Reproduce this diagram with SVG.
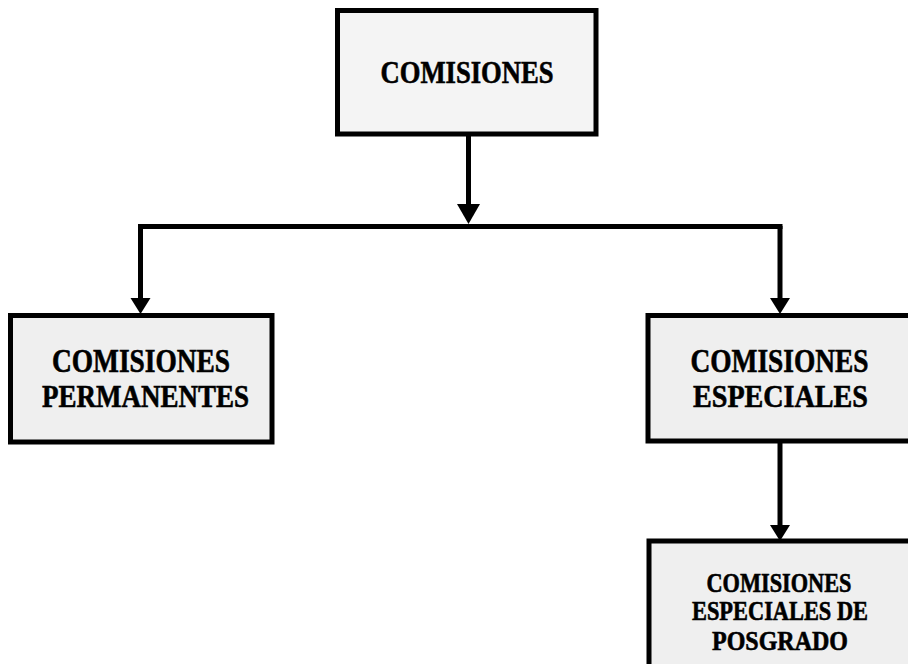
<svg xmlns="http://www.w3.org/2000/svg" width="908" height="664" viewBox="0 0 908 664">
<defs>
<style>
.box{fill:#efefef;stroke:#000;stroke-width:5}
.t{font-family:"Liberation Serif","Times New Roman",serif;font-weight:bold;fill:#000;stroke:#000;stroke-width:0.6;text-anchor:middle}
.c{stroke:#000;stroke-width:5;fill:none}
.ah{fill:#000}
</style>
</defs>
<rect width="908" height="664" fill="#fff"/>
<g id="connectors">
<path class="c" d="M468.5,134 V212"/>
<polygon class="ah" points="457,204 480,204 468.5,224"/>
<path class="c" d="M138,226.5 H782.5"/>
<path class="c" d="M140.5,226 V302"/>
<polygon class="ah" points="130.5,298 150.5,298 140.5,314"/>
<path class="c" d="M780,226 V302"/>
<polygon class="ah" points="770,298 790,298 780,314"/>
<path class="c" d="M780,441 V528"/>
<polygon class="ah" points="770,525 790,525 780,541"/>
</g>
<g id="comisiones">
<rect class="box" x="337.5" y="10.5" width="258.5" height="123.5" style="fill:#f4f4f4"/>
<text class="t" x="467" y="83" font-size="32" textLength="173" lengthAdjust="spacingAndGlyphs">COMISIONES</text>
</g>
<g id="permanentes">
<rect class="box" x="10.5" y="315.5" width="261.5" height="126.5"/>
<text class="t" x="141" y="372" font-size="33" textLength="178" lengthAdjust="spacingAndGlyphs">COMISIONES</text>
<text class="t" x="145.5" y="407" font-size="32" textLength="207" lengthAdjust="spacingAndGlyphs">PERMANENTES</text>
</g>
<g id="especiales">
<rect class="box" x="648" y="315.5" width="270" height="125.5"/>
<text class="t" x="779.5" y="372" font-size="33" textLength="178" lengthAdjust="spacingAndGlyphs">COMISIONES</text>
<text class="t" x="780.5" y="407" font-size="32" textLength="175" lengthAdjust="spacingAndGlyphs">ESPECIALES</text>
</g>
<g id="posgrado">
<rect class="box" x="649" y="541" width="270" height="135"/>
<text class="t" x="779" y="592" font-size="27" textLength="145" lengthAdjust="spacingAndGlyphs">COMISIONES</text>
<text class="t" x="780" y="620" font-size="27" textLength="176" lengthAdjust="spacingAndGlyphs">ESPECIALES DE</text>
<text class="t" x="780" y="650" font-size="27" textLength="136" lengthAdjust="spacingAndGlyphs">POSGRADO</text>
</g>
</svg>
